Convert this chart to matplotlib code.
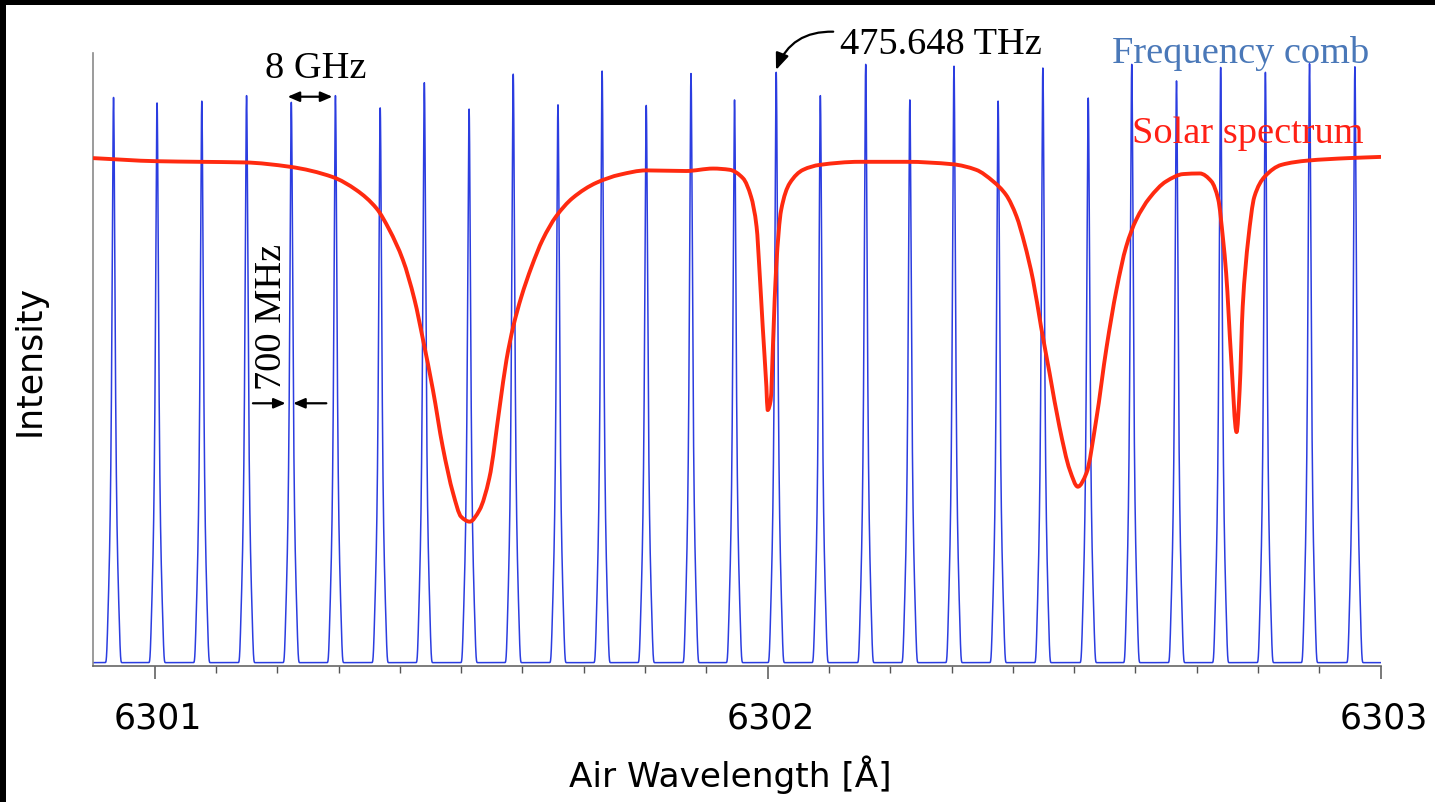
import numpy as np
import matplotlib
matplotlib.use("Agg")
import matplotlib.pyplot as plt
from matplotlib.patches import Rectangle, PathPatch
from matplotlib.path import Path
from matplotlib.transforms import ScaledTranslation

# ---------------- data ----------------
comb_wl = [6300.933, 6301.004, 6301.077, 6301.150, 6301.223, 6301.295, 6301.368,
           6301.440, 6301.513, 6301.585, 6301.658, 6301.730, 6301.802, 6301.875,
           6301.946, 6302.014, 6302.086, 6302.160, 6302.232, 6302.304, 6302.376,
           6302.449, 6302.523, 6302.594, 6302.667, 6302.739, 6302.812, 6302.884,
           6302.958]
comb_height = [0.922, 0.913, 0.916, 0.925, 0.914, 0.925, 0.905, 0.946, 0.903,
               0.960, 0.910, 0.965, 0.909, 0.961, 0.918, 0.963, 0.925, 0.976,
               0.918, 0.973, 0.916, 0.970, 0.921, 0.976, 0.949, 0.971, 0.963,
               0.977, 0.972]

solar_wl = [6300.900, 6301.003, 6301.073, 6301.147, 6301.220, 6301.291, 6301.329,
            6301.362, 6301.383, 6301.405, 6301.424, 6301.438, 6301.454, 6301.470,
            6301.487, 6301.500, 6301.514, 6301.530, 6301.546, 6301.563, 6301.574,
            6301.585, 6301.598, 6301.615, 6301.633, 6301.655, 6301.682, 6301.721,
            6301.759, 6301.802, 6301.867, 6301.911, 6301.938, 6301.960, 6301.973,
            6301.982, 6301.987, 6301.992, 6301.998, 6302.000, 6302.005, 6302.009,
            6302.014, 6302.022, 6302.036, 6302.058, 6302.085, 6302.150, 6302.226,
            6302.302, 6302.340, 6302.368, 6302.389, 6302.406, 6302.419, 6302.433,
            6302.446, 6302.460, 6302.476, 6302.493, 6302.506, 6302.520, 6302.536,
            6302.553, 6302.569, 6302.585, 6302.601, 6302.623, 6302.650, 6302.678,
            6302.705, 6302.724, 6302.735, 6302.743, 6302.748, 6302.756, 6302.765,
            6302.770, 6302.775, 6302.784, 6302.794, 6302.811, 6302.838, 6302.881,
            6302.947, 6303.000]
solar_int = [0.828, 0.823, 0.822, 0.821, 0.814, 0.797, 0.776, 0.746, 0.711, 0.662,
             0.597, 0.531, 0.450, 0.357, 0.281, 0.243, 0.235, 0.254, 0.306, 0.423,
             0.499, 0.553, 0.601, 0.651, 0.695, 0.733, 0.763, 0.788, 0.801, 0.808,
             0.807, 0.811, 0.809, 0.795, 0.765, 0.716, 0.640, 0.553, 0.455, 0.417,
             0.433, 0.531, 0.651, 0.743, 0.787, 0.809, 0.817, 0.822, 0.822, 0.818,
             0.809, 0.790, 0.768, 0.733, 0.689, 0.629, 0.553, 0.477, 0.390, 0.319,
             0.292, 0.314, 0.401, 0.520, 0.613, 0.684, 0.727, 0.763, 0.790, 0.802,
             0.803, 0.790, 0.761, 0.695, 0.640, 0.504, 0.381, 0.450, 0.586, 0.695,
             0.765, 0.798, 0.817, 0.824, 0.828, 0.830]

tick_values = [6301, 6302, 6303]
tick_labels = ["6301", "6302", "6303"]

# comb line-shape parameters (Angstrom)
comb_fwhm = 0.0065
comb_cut = 0.0106
comb_floor = 0.005


def smooth_path(xs, ys):
    """Monotone cubic (PCHIP-type) Bezier path through the given points."""
    x = np.asarray(xs, float)
    y = np.asarray(ys, float)
    h = np.diff(x)
    dlt = np.diff(y) / h
    m = np.zeros_like(x)
    m[0], m[-1] = dlt[0], dlt[-1]
    for k in range(1, len(x) - 1):
        if dlt[k - 1] * dlt[k] > 0:
            w1 = 2 * h[k] + h[k - 1]
            w2 = h[k] + 2 * h[k - 1]
            m[k] = (w1 + w2) / (w1 / dlt[k - 1] + w2 / dlt[k])
    verts = [(x[0], y[0])]
    codes = [Path.MOVETO]
    for i in range(len(x) - 1):
        verts += [(x[i] + h[i] / 3, y[i] + m[i] * h[i] / 3),
                  (x[i + 1] - h[i] / 3, y[i + 1] - m[i + 1] * h[i] / 3),
                  (x[i + 1], y[i + 1])]
        codes += [Path.CURVE4] * 3
    return Path(verts, codes)


# ---------------- figure ----------------
fig = plt.figure(figsize=(14.35, 8.02), dpi=100, facecolor="black")
fig.patches.append(Rectangle((6 / 1435, 0), 1, (802 - 5) / 802,
                             transform=fig.transFigure, facecolor="white",
                             edgecolor="none", zorder=-10))

ax = fig.add_axes([0.06502, 0.16995, 0.8971, 0.76434])
ax.set_facecolor("white")

grid = np.linspace(6300.9, 6303.0, 30000)
comb = np.full_like(grid, comb_floor)
for c, hgt in zip(comb_wl, comb_height):
    d = grid - c
    comb += hgt / (1 + (2 * d / comb_fwhm) ** 2) * np.exp(-(d / comb_cut) ** 8)
ax.plot(grid, comb, color="#2b3de0", lw=1.1, zorder=2)

ax.add_patch(PathPatch(smooth_path(solar_wl, solar_int), fill=False,
                       edgecolor="#ff2a10", lw=2.8, joinstyle="round",
                       capstyle="round", zorder=3))

ax.set_xlim(6300.9, 6303.0)
ax.set_ylim(0, 1)
for s in ("top", "right"):
    ax.spines[s].set_visible(False)
ax.spines["left"].set_color("#8a8a8a")
ax.spines["bottom"].set_color("#666666")
ax.spines["left"].set_linewidth(1.2)
ax.spines["bottom"].set_linewidth(1.2)

ax.set_yticks([])
ax.set_xticks(tick_values, tick_labels)
ax.set_xticks(np.round(np.arange(6301.0, 6303.01, 0.1), 1), minor=True)
ax.tick_params(axis="x", which="major", length=9, width=1.1, color="#555555",
               pad=17, labelsize=25, direction="out")
ax.tick_params(axis="x", which="minor", length=4.8, width=1.0, color="#555555",
               direction="out")
shift = ScaledTranslation(3 / 100, 0, fig.dpi_scale_trans)
for lab in ax.get_xticklabels():
    lab.set_transform(lab.get_transform() + shift)

ax.set_xlabel("Air Wavelength [Å]", fontsize=24.7)
ax.xaxis.set_label_coords(0.4946, -0.1974)
ax.xaxis.label.set_va("baseline")
ax.set_ylabel("Intensity", fontsize=25)
ax.yaxis.set_label_coords(-0.0495, 0.4987)
ax.yaxis.label.set_va("center")

serif = "Liberation Serif"
fs = 27.6
ax.text(6301.1794, 0.9595, "8 GHz", fontfamily=serif, fontsize=fs,
        ha="left", va="baseline", color="black")
ax.annotate("", xy=(6301.290, 0.9282), xytext=(6301.217, 0.9282),
            arrowprops=dict(arrowstyle="<|-|>,head_length=0.7,head_width=0.3",
                            color="black", lw=1.6, shrinkA=0, shrinkB=0,
                            mutation_scale=10))

ax.text(6302.1175, 0.998, "475.648 THz", fontfamily=serif, fontsize=fs,
        ha="left", va="baseline", color="black")
ax.annotate("", xy=(6302.0137, 0.9718), xytext=(6302.1070, 1.0343),
            annotation_clip=False,
            arrowprops=dict(arrowstyle="-|>,head_length=1.0,head_width=0.4",
                            connectionstyle="arc3,rad=0.35", color="black",
                            lw=1.6, shrinkA=0, shrinkB=0, mutation_scale=10))

ax.text(6302.5612, 0.984, "Frequency comb", fontfamily=serif, fontsize=fs,
        ha="left", va="baseline", color="#4a78b8")
ax.text(6302.5938, 0.852, "Solar spectrum", fontfamily=serif, fontsize=fs,
        ha="left", va="baseline", color="#ff2015")

ax.text(6301.2067, 0.5684, "700 MHz", fontfamily=serif, fontsize=fs,
        rotation=90, rotation_mode="anchor", ha="center", va="baseline",
        color="black")
ax.annotate("", xy=(6301.2137, 0.4281), xytext=(6301.1604, 0.4281),
            arrowprops=dict(arrowstyle="-|>,head_length=0.7,head_width=0.3",
                            color="black", lw=1.6, shrinkA=0, shrinkB=0,
                            mutation_scale=10))
ax.annotate("", xy=(6301.2260, 0.4281), xytext=(6301.2801, 0.4281),
            arrowprops=dict(arrowstyle="-|>,head_length=0.7,head_width=0.3",
                            color="black", lw=1.6, shrinkA=0, shrinkB=0,
                            mutation_scale=10))

fig.savefig("out.png", dpi=100, facecolor=fig.get_facecolor())
